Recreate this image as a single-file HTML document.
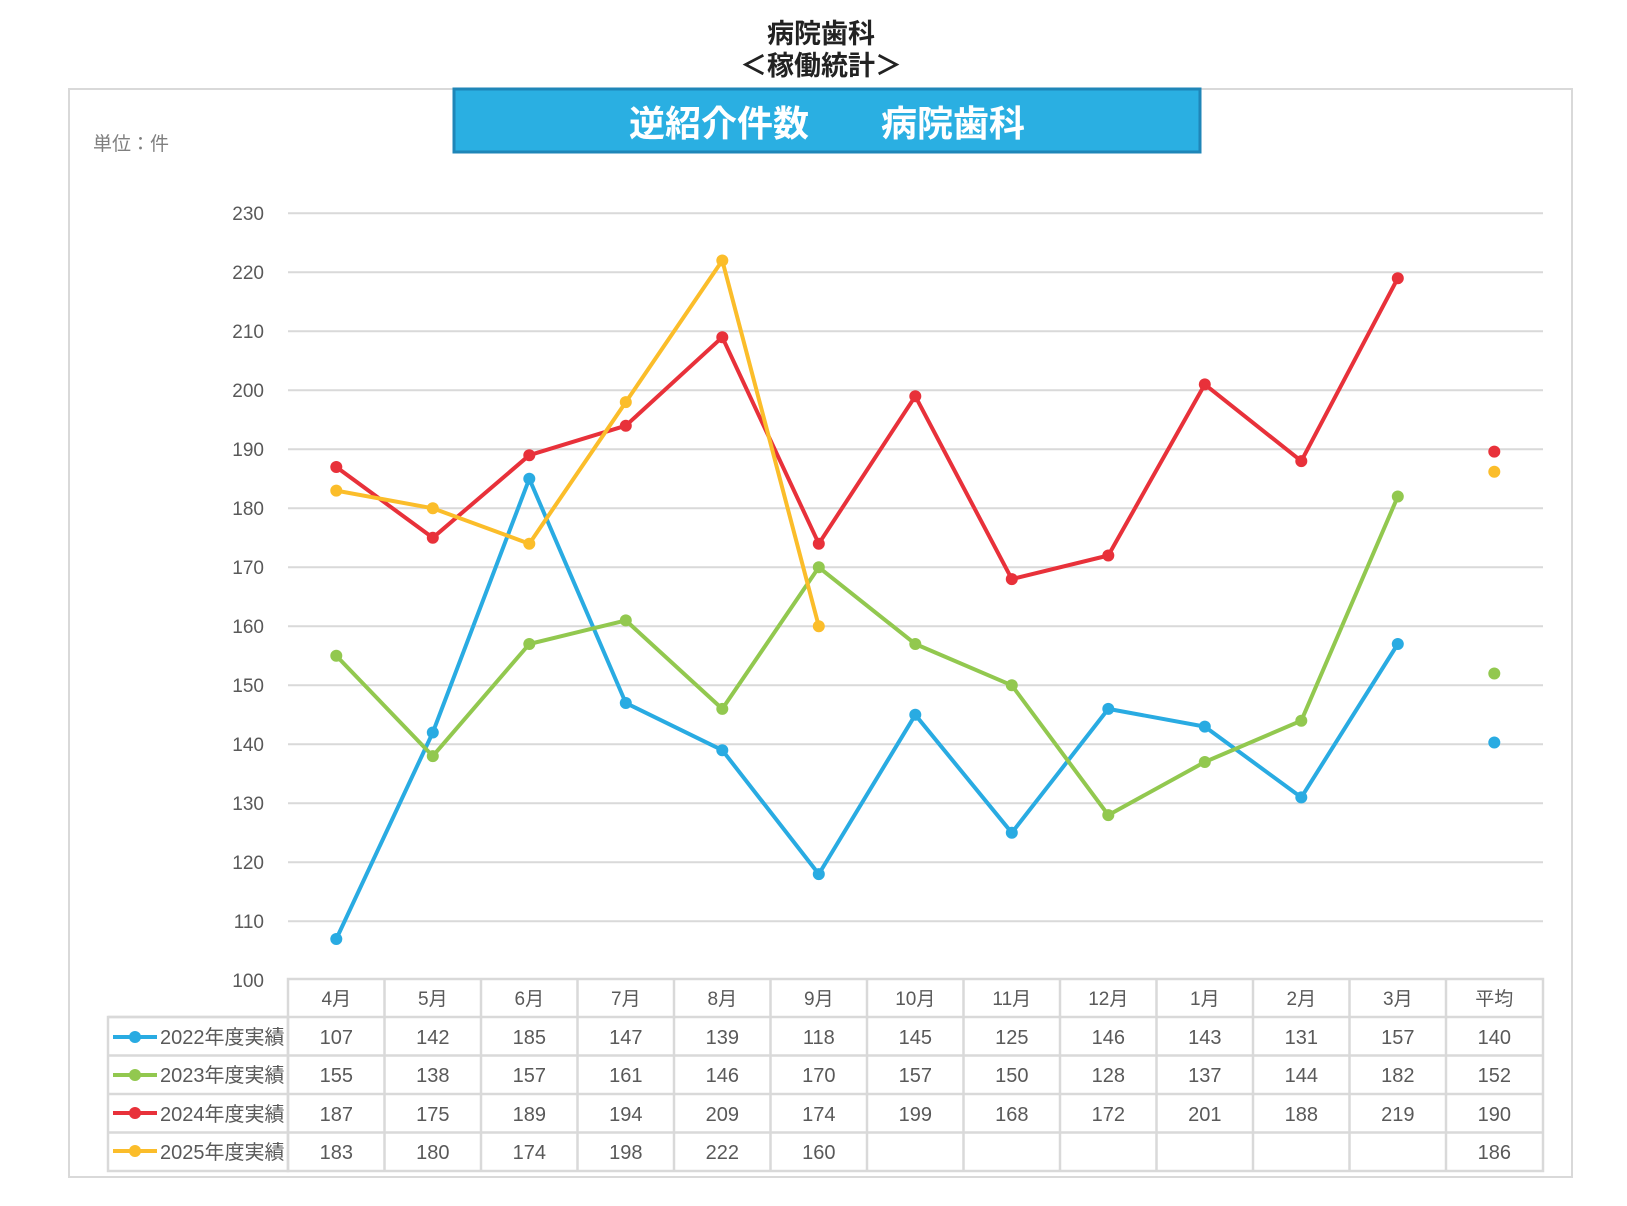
<!DOCTYPE html>
<html><head><meta charset="utf-8"><style>
html,body{margin:0;padding:0;background:#fff;}
svg{display:block;}
text{font-family:"Liberation Sans","Noto Sans CJK JP",sans-serif;}
</style></head><body>
<svg width="1627" height="1206" viewBox="0 0 1627 1206" xmlns="http://www.w3.org/2000/svg">
<rect width="1627" height="1206" fill="#fff"/>
<text x="821" y="43" text-anchor="middle" font-size="27" font-weight="bold" fill="#222">病院歯科</text>
<text x="821" y="75" text-anchor="middle" font-size="27" font-weight="bold" fill="#222">＜稼働統計＞</text>
<rect x="69" y="89" width="1503" height="1088" fill="none" stroke="#d9d9d9" stroke-width="2"/>
<rect x="454" y="89" width="746" height="63" fill="#2aafe2" stroke="#1f86b8" stroke-width="3"/>
<text x="827" y="136" text-anchor="middle" font-size="36" font-weight="bold" fill="#fff">逆紹介件数　　病院歯科</text>
<text x="93" y="150" font-size="19" fill="#7f7f7f">単位：件</text>
<g id="grid" stroke="#d9d9d9" stroke-width="2">
<line x1="288" x2="1543" y1="213.3" y2="213.3"/><line x1="288" x2="1543" y1="272.3" y2="272.3"/><line x1="288" x2="1543" y1="331.3" y2="331.3"/><line x1="288" x2="1543" y1="390.3" y2="390.3"/><line x1="288" x2="1543" y1="449.3" y2="449.3"/><line x1="288" x2="1543" y1="508.3" y2="508.3"/><line x1="288" x2="1543" y1="567.3" y2="567.3"/><line x1="288" x2="1543" y1="626.3" y2="626.3"/><line x1="288" x2="1543" y1="685.3" y2="685.3"/><line x1="288" x2="1543" y1="744.3" y2="744.3"/><line x1="288" x2="1543" y1="803.3" y2="803.3"/><line x1="288" x2="1543" y1="862.3" y2="862.3"/><line x1="288" x2="1543" y1="921.3" y2="921.3"/>
</g>
<g font-size="19" fill="#595959" text-anchor="end">
<text x="264" y="220">230</text><text x="264" y="279">220</text><text x="264" y="338">210</text><text x="264" y="397">200</text><text x="264" y="456">190</text><text x="264" y="515">180</text><text x="264" y="574">170</text><text x="264" y="633">160</text><text x="264" y="692">150</text><text x="264" y="751">140</text><text x="264" y="810">130</text><text x="264" y="869">120</text><text x="264" y="928">110</text><text x="264" y="987">100</text>
</g>
<g stroke="#d9d9d9" stroke-width="2.5" fill="none">
<rect x="288" y="979" width="1255" height="192"/>
<rect x="108" y="1017" width="180" height="154"/>
<line x1="108" x2="1543" y1="1017" y2="1017"/>
<line x1="108" x2="1543" y1="1055.5" y2="1055.5"/>
<line x1="108" x2="1543" y1="1094" y2="1094"/>
<line x1="108" x2="1543" y1="1132.5" y2="1132.5"/>
<line x1="384.5" x2="384.5" y1="979" y2="1171"/><line x1="481" x2="481" y1="979" y2="1171"/><line x1="577.5" x2="577.5" y1="979" y2="1171"/><line x1="674" x2="674" y1="979" y2="1171"/><line x1="770.5" x2="770.5" y1="979" y2="1171"/><line x1="867" x2="867" y1="979" y2="1171"/><line x1="963.5" x2="963.5" y1="979" y2="1171"/><line x1="1060" x2="1060" y1="979" y2="1171"/><line x1="1156.5" x2="1156.5" y1="979" y2="1171"/><line x1="1253" x2="1253" y1="979" y2="1171"/><line x1="1349.5" x2="1349.5" y1="979" y2="1171"/><line x1="1446" x2="1446" y1="979" y2="1171"/>
</g>
<g font-size="19" fill="#595959" text-anchor="middle">
<text x="336.3" y="1005">4月</text><text x="432.8" y="1005">5月</text><text x="529.3" y="1005">6月</text><text x="625.8" y="1005">7月</text><text x="722.3" y="1005">8月</text><text x="818.8" y="1005">9月</text><text x="915.3" y="1005">10月</text><text x="1011.8" y="1005">11月</text><text x="1108.3" y="1005">12月</text><text x="1204.8" y="1005">1月</text><text x="1301.3" y="1005">2月</text><text x="1397.8" y="1005">3月</text><text x="1494.3" y="1005">平均</text>
<g font-size="20">
<text x="336.3" y="1044">107</text><text x="432.8" y="1044">142</text><text x="529.3" y="1044">185</text><text x="625.8" y="1044">147</text><text x="722.3" y="1044">139</text><text x="818.8" y="1044">118</text><text x="915.3" y="1044">145</text><text x="1011.8" y="1044">125</text><text x="1108.3" y="1044">146</text><text x="1204.8" y="1044">143</text><text x="1301.3" y="1044">131</text><text x="1397.8" y="1044">157</text><text x="1494.3" y="1044">140</text>
<text x="336.3" y="1082">155</text><text x="432.8" y="1082">138</text><text x="529.3" y="1082">157</text><text x="625.8" y="1082">161</text><text x="722.3" y="1082">146</text><text x="818.8" y="1082">170</text><text x="915.3" y="1082">157</text><text x="1011.8" y="1082">150</text><text x="1108.3" y="1082">128</text><text x="1204.8" y="1082">137</text><text x="1301.3" y="1082">144</text><text x="1397.8" y="1082">182</text><text x="1494.3" y="1082">152</text>
<text x="336.3" y="1121">187</text><text x="432.8" y="1121">175</text><text x="529.3" y="1121">189</text><text x="625.8" y="1121">194</text><text x="722.3" y="1121">209</text><text x="818.8" y="1121">174</text><text x="915.3" y="1121">199</text><text x="1011.8" y="1121">168</text><text x="1108.3" y="1121">172</text><text x="1204.8" y="1121">201</text><text x="1301.3" y="1121">188</text><text x="1397.8" y="1121">219</text><text x="1494.3" y="1121">190</text>
<text x="336.3" y="1159">183</text><text x="432.8" y="1159">180</text><text x="529.3" y="1159">174</text><text x="625.8" y="1159">198</text><text x="722.3" y="1159">222</text><text x="818.8" y="1159">160</text><text x="1494.3" y="1159">186</text>
</g>
</g>
<g font-size="20" fill="#595959">
<text x="160" y="1044">2022年度実績</text><text x="160" y="1082">2023年度実績</text><text x="160" y="1121">2024年度実績</text><text x="160" y="1159">2025年度実績</text>
</g>
<g stroke-width="4">
<line x1="113" x2="157" y1="1037" y2="1037" stroke="#29abe2"/><circle cx="135" cy="1037" r="6" fill="#29abe2"/>
<line x1="113" x2="157" y1="1075" y2="1075" stroke="#92c84f"/><circle cx="135" cy="1075" r="6" fill="#92c84f"/>
<line x1="113" x2="157" y1="1113" y2="1113" stroke="#e8313a"/><circle cx="135" cy="1113" r="6" fill="#e8313a"/>
<line x1="113" x2="157" y1="1151" y2="1151" stroke="#fbbd2a"/><circle cx="135" cy="1151" r="6" fill="#fbbd2a"/>
</g>
<g id="series" fill="none" stroke-width="4" stroke-linejoin="round"></g>
<script>
(function(){
var data=[["#29abe2",[107,142,185,147,139,118,145,125,146,143,131,157],140.3],
["#92c84f",[155,138,157,161,146,170,157,150,128,137,144,182],152.0],
["#e8313a",[187,175,189,194,209,174,199,168,172,201,188,219],189.6],
["#fbbd2a",[183,180,174,198,222,160],186.2]];
var g=document.getElementById('series'),ns="http://www.w3.org/2000/svg";
function X(i){return 336.3+i*96.5;}function Y(v){return 980.3-(v-100)*5.9;}
data.forEach(function(s){
var pts=s[1].map(function(v,i){return X(i)+","+Y(v);}).join(" ");
var p=document.createElementNS(ns,"polyline");p.setAttribute("points",pts);p.setAttribute("stroke",s[0]);g.appendChild(p);
s[1].forEach(function(v,i){var c=document.createElementNS(ns,"circle");c.setAttribute("cx",X(i));c.setAttribute("cy",Y(v));c.setAttribute("r",6);c.setAttribute("fill",s[0]);c.setAttribute("stroke","none");g.appendChild(c);});
var c=document.createElementNS(ns,"circle");c.setAttribute("cx",X(12));c.setAttribute("cy",Y(s[2]));c.setAttribute("r",6);c.setAttribute("fill",s[0]);c.setAttribute("stroke","none");g.appendChild(c);
});
})();
</script>
</svg>
</body></html>
